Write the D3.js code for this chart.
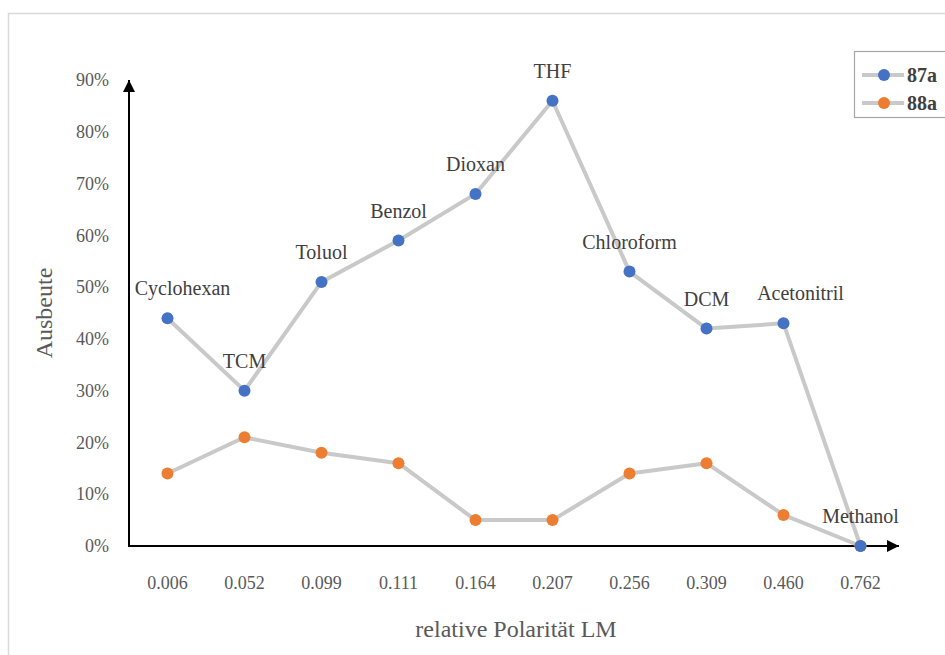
<!DOCTYPE html>
<html>
<head>
<meta charset="utf-8">
<script src="https://cdn.jsdelivr.net/npm/d3@7"></script>
<style>
  html, body { margin: 0; padding: 0; background: #fff; }
  svg { display: block; }
  svg text { font-family: "Liberation Serif", "DejaVu Serif", serif; }
</style>
</head>
<body>
<svg id="chart" width="945" height="655"></svg>
<script>
// Solvent polarity (x categories) and yields of the two products
const polarity = ["0.006", "0.052", "0.099", "0.111", "0.164", "0.207", "0.256", "0.309", "0.460", "0.762"];
const solvents = ["Cyclohexan", "TCM", "Toluol", "Benzol", "Dioxan", "THF", "Chloroform", "DCM", "Acetonitril", "Methanol"];
const yield87a = [0.44, 0.30, 0.51, 0.59, 0.68, 0.86, 0.53, 0.42, 0.43, 0.00];
const yield88a = [0.14, 0.21, 0.18, 0.16, 0.05, 0.05, 0.14, 0.16, 0.06, 0.00];
const yTicks = [0, 0.1, 0.2, 0.3, 0.4, 0.5, 0.6, 0.7, 0.8, 0.9];
const seriesNames = ["87a", "88a"];

const FONT = "Liberation Serif, DejaVu Serif, serif";
const TEXT = "#595959";
const LINE = "#c9c9c9";
const colors = { "87a": "#4472c4", "88a": "#ed7d31" };

const svg = d3.select("#chart");

// outer chart frame
svg.append("rect")
  .attr("x", 8.5).attr("y", 13.5)
  .attr("width", 1000).attr("height", 700)
  .attr("fill", "#fff").attr("stroke", "#d9d9d9").attr("stroke-width", 1.5);

const x = d3.scaleBand().domain(polarity).range([129, 899]);
const y = d3.scaleLinear().domain([0, 0.9]).range([546, 80]);
const cx = d => x(d) + x.bandwidth() / 2;

// arrowheads for both axes
const defs = svg.append("defs");
defs.append("marker")
  .attr("id", "arrow")
  .attr("viewBox", "0 0 10 10")
  .attr("refX", 10).attr("refY", 5)
  .attr("markerWidth", 12).attr("markerHeight", 12)
  .attr("markerUnits", "userSpaceOnUse")
  .attr("orient", "auto")
  .append("path").attr("d", "M0,0 L10,5 L0,10 Z").attr("fill", "#000");

// x axis (tick labels only)
const xAxis = svg.append("g")
  .attr("transform", `translate(0,${y(0)})`)
  .call(d3.axisBottom(x).tickSize(0).tickPadding(30));
xAxis.attr("font-family", null);
xAxis.select(".domain").remove();
xAxis.selectAll("text")
  .style("font-family", FONT).attr("font-size", 18).attr("fill", TEXT);

// y axis (tick labels only)
const yAxis = svg.append("g")
  .attr("transform", `translate(109,0)`)
  .call(d3.axisLeft(y).tickValues(yTicks).tickFormat(d3.format(".0%")).tickSize(0).tickPadding(0));
yAxis.attr("font-family", null);
yAxis.select(".domain").remove();
yAxis.selectAll("text")
  .style("font-family", FONT).attr("font-size", 18).attr("fill", TEXT);

// axis lines with arrows
svg.append("line")
  .attr("x1", 129).attr("y1", y(0) + 1)
  .attr("x2", 129).attr("y2", y(0.9))
  .attr("stroke", "#000").attr("stroke-width", 2)
  .attr("marker-end", "url(#arrow)");
svg.append("line")
  .attr("x1", 128).attr("y1", y(0))
  .attr("x2", x.range()[1]).attr("y2", y(0))
  .attr("stroke", "#000").attr("stroke-width", 2)
  .attr("marker-end", "url(#arrow)");

// axis titles
svg.append("text")
  .attr("transform", `translate(52,${y(0.45)}) rotate(-90)`)
  .attr("text-anchor", "middle")
  .style("font-family", FONT).attr("font-size", 24).attr("fill", TEXT)
  .text("Ausbeute");
svg.append("text")
  .attr("x", 516).attr("y", 637)
  .attr("text-anchor", "middle")
  .style("font-family", FONT).attr("font-size", 24).attr("fill", TEXT)
  .text("relative Polarität LM");

// lines and markers
const line = d3.line().x((d, i) => cx(polarity[i])).y(d => y(d));
const series = [{ name: "88a", values: yield88a }, { name: "87a", values: yield87a }];

series.forEach(s => {
  svg.append("path")
    .datum(s.values)
    .attr("d", line)
    .attr("fill", "none")
    .attr("stroke", LINE).attr("stroke-width", 4)
    .attr("stroke-linejoin", "round");
});
series.forEach(s => {
  svg.append("g").selectAll("circle")
    .data(s.values)
    .join("circle")
    .attr("cx", (d, i) => cx(polarity[i]))
    .attr("cy", d => y(d))
    .attr("r", 6)
    .attr("fill", colors[s.name]);
});

// solvent labels above the 87a points
const labelNudge = { "Cyclohexan": 15, "Acetonitril": 17 };
svg.append("g").selectAll("text")
  .data(solvents)
  .join("text")
  .attr("x", (d, i) => cx(polarity[i]) + (labelNudge[d] || 0))
  .attr("y", (d, i) => y(yield87a[i]) - 23)
  .attr("text-anchor", "middle")
  .style("font-family", FONT).attr("font-size", 20).attr("fill", "#404040")
  .text(d => d);

// legend
const legend = svg.append("g");
legend.append("rect")
  .attr("x", 854.5).attr("y", 51.5)
  .attr("width", 200).attr("height", 66)
  .attr("fill", "#fff").attr("stroke", "#a6a6a6").attr("stroke-width", 1.2);
seriesNames.forEach((name, i) => {
  const ly = 75 + i * 28;
  legend.append("line")
    .attr("x1", 862).attr("x2", 904).attr("y1", ly).attr("y2", ly)
    .attr("stroke", LINE).attr("stroke-width", 4);
  legend.append("circle")
    .attr("cx", 884).attr("cy", ly).attr("r", 6).attr("fill", colors[name]);
  legend.append("text")
    .attr("x", 907).attr("y", ly + 6.5)
    .style("font-family", FONT).attr("font-size", 20).attr("font-weight", "bold")
    .attr("fill", "#404040")
    .text(name);
});
</script>
</body>
</html>
